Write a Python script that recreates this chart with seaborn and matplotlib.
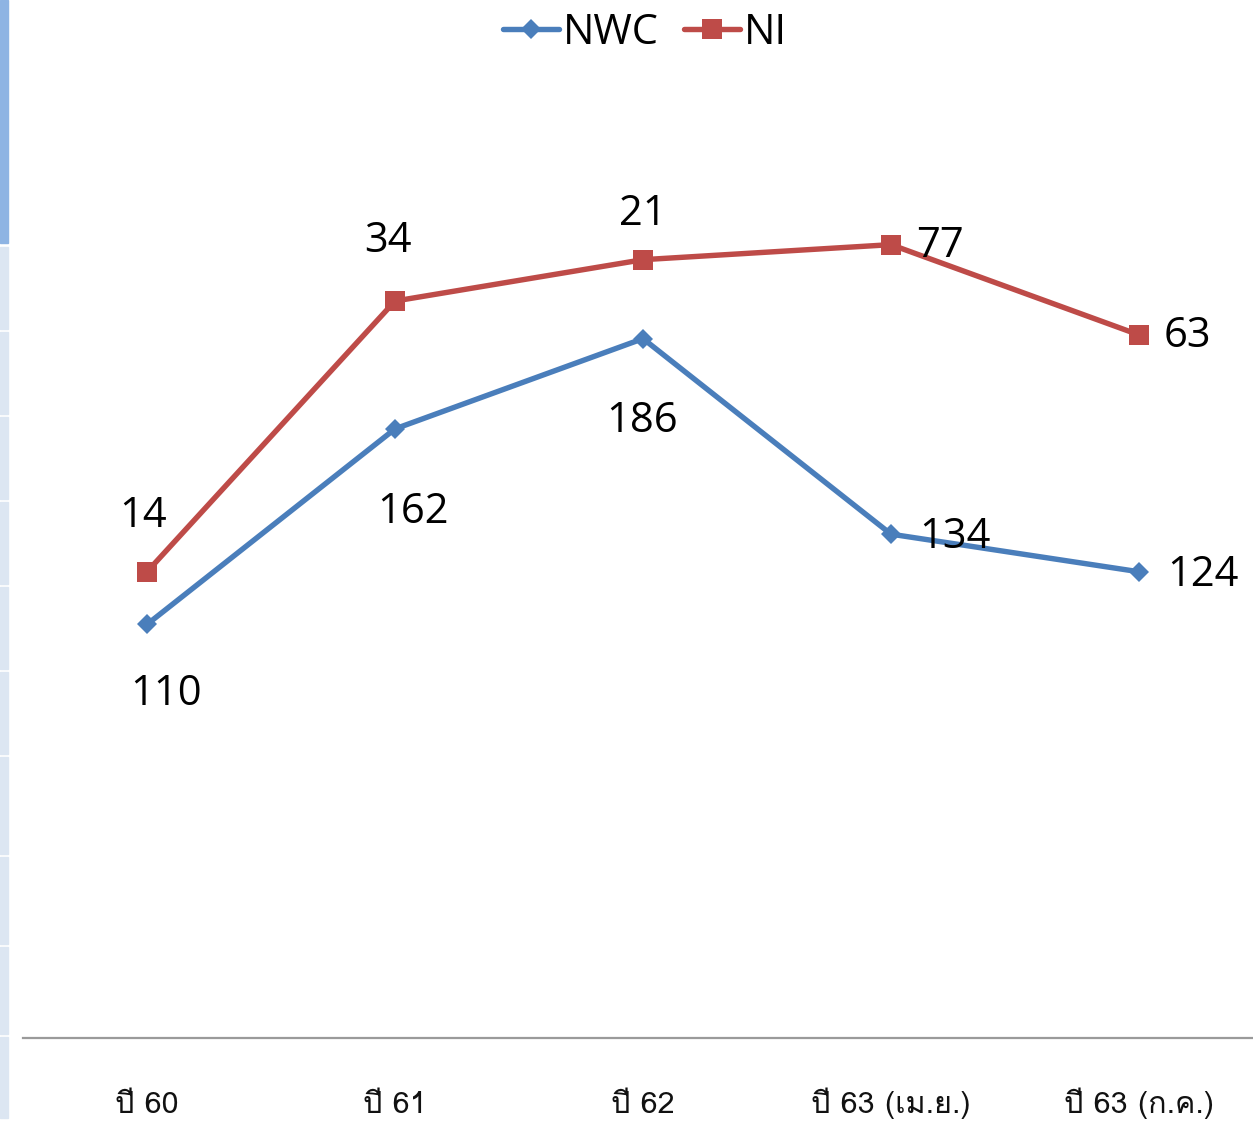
import matplotlib
matplotlib.use("Agg")
import matplotlib.pyplot as plt
from matplotlib import font_manager
from matplotlib.ft2font import FT2Font
from matplotlib.patches import Rectangle
import pandas as pd
import seaborn as sns

categories = ["ปี 60", "ปี 61", "ปี 62", "ปี 63 (เม.ย.)", "ปี 63 (ก.ค.)"]
nwc_values = [110, 162, 186, 134, 124]
nwc_labels = ["110", "162", "186", "134", "124"]
ni_values = [124, 196, 207, 211, 187]
ni_labels = ["14", "34", "21", "77", "63"]


def find_thai_font():
    # pick the first installed font that has Thai glyphs
    for f in font_manager.fontManager.ttflist:
        try:
            cmap = FT2Font(f.fname).get_charmap()
        except Exception:
            continue
        if ord("ป") in cmap and ord("ี") in cmap:
            return f.name
    return "DejaVu Sans"


sns.set_style("white")
plt.rcParams["font.family"] = ["Open Sans", "DejaVu Sans"]
plt.rcParams["text.color"] = "black"
thai_font = find_thai_font()

df = pd.DataFrame({
    "cat": categories * 2,
    "value": nwc_values + ni_values,
    "series": ["NWC"] * 5 + ["NI"] * 5,
})

fig = plt.figure(figsize=(12.53, 11.21), dpi=100)
ax = fig.add_axes([23 / 1253, 83 / 1121, 1240 / 1253, 940 / 1121])

blue = "#4A7EBB"
red = "#BE4B48"
sns.lineplot(data=df[df.series == "NWC"], x="cat", y="value", ax=ax, color=blue,
             lw=3.9, marker="D", markersize=10, markeredgewidth=0, sort=False,
             label="NWC")
sns.lineplot(data=df[df.series == "NI"], x="cat", y="value", ax=ax, color=red,
             lw=3.9, marker="s", markersize=14, markeredgewidth=0, sort=False,
             label="NI")

ax.set_xlim(-0.5, 4.5)
ax.set_ylim(0, 250)
ax.set_xlabel("")
ax.set_ylabel("")
ax.set_yticks([])
ax.tick_params(axis="x", length=0, pad=54)
ax.set_xticks(range(len(categories)))
ax.set_xticklabels(categories, family=[thai_font, "DejaVu Sans"], fontsize=22,
                   color="#111111")
for lab in ax.get_xticklabels():
    lab.set_verticalalignment("baseline")
for side in ["top", "left", "right"]:
    ax.spines[side].set_visible(False)
ax.spines["bottom"].set_color("#9A9A9A")
ax.spines["bottom"].set_linewidth(1.6)

# data labels (offsets in points)
fs = 30
nwc_offsets = [(14, -50, "center"), (13, -60, "center"), (-1, -59, "center"),
               (20, -2, "left"), (20, -2, "left")]
ni_offsets = [(-3, 40, "center"), (-5, 43, "center"), (0, 33, "center"),
              (18, -1, "left"), (18, -1, "left")]
for i, (v, t) in enumerate(zip(nwc_values, nwc_labels)):
    dx, dy, ha = nwc_offsets[i]
    ax.annotate(t, (i, v), xytext=(dx, dy), textcoords="offset points",
                ha=ha, va="center", fontsize=fs)
for i, (v, t) in enumerate(zip(ni_values, ni_labels)):
    dx, dy, ha = ni_offsets[i]
    ax.annotate(t, (i, v), xytext=(dx, dy), textcoords="offset points",
                ha=ha, va="center", fontsize=fs)

leg = ax.legend(loc="upper center", bbox_to_anchor=(645 / 1253, 1 + 5 / 1121),
                bbox_transform=fig.transFigure,
                ncol=2, frameon=False, fontsize=fs, handlelength=1.35,
                handletextpad=0.1, columnspacing=0.6, borderaxespad=0)

# strip of neighbouring table cut at the left edge
fig.patches.append(Rectangle((0, 1 - 243 / 1121), 8 / 1253, 243 / 1121,
                             transform=fig.transFigure, color="#8EB4E3", zorder=0))
edges = [247, 332, 417, 502, 587, 672, 757, 857, 947, 1037, 1121]
for a, b in zip(edges[:-1], edges[1:]):
    fig.patches.append(Rectangle((0, 1 - (b - 3) / 1121), 8 / 1253, (b - 3 - a) / 1121,
                                 transform=fig.transFigure, color="#DCE6F2", zorder=0))

fig.savefig("out.png", dpi=100)
